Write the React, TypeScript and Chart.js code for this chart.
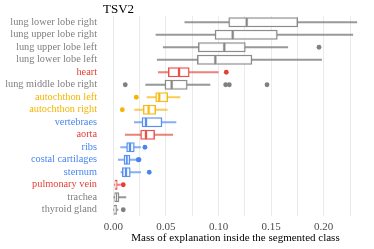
import React, { useEffect, useRef } from "react";
import { Chart, registerables } from "chart.js";

Chart.register(...registerables);

const categories = [
  "lung lower lobe right",
  "lung upper lobe right",
  "lung upper lobe left",
  "lung lower lobe left",
  "heart",
  "lung middle lobe right",
  "autochthon left",
  "autochthon right",
  "vertebraes",
  "aorta",
  "ribs",
  "costal cartilages",
  "sternum",
  "pulmonary vein",
  "trachea",
  "thyroid gland",
];

const groups = ["g", "g", "g", "g", "r", "g", "y", "y", "b", "r", "b", "b", "b", "r", "g", "g"];

const whiskerLow = [0.068, 0.0406, 0.0475, 0.0418, 0.0428, 0.0308, 0.032, 0.0203, 0.02, 0.0114, 0.007, 0.0048, 0.0073, 0.001, 0.0005, 0.0003];
const q1 = [0.1097, 0.0967, 0.0808, 0.0799, 0.0523, 0.0491, 0.0403, 0.0285, 0.0273, 0.026, 0.0127, 0.0102, 0.0086, 0.0016, 0.0013, 0.0007];
const median = [0.1268, 0.1135, 0.1055, 0.097, 0.0625, 0.0555, 0.0437, 0.0336, 0.0311, 0.0311, 0.0159, 0.0127, 0.0121, 0.0029, 0.0026, 0.0016];
const q3 = [0.1753, 0.1559, 0.1255, 0.1318, 0.0722, 0.0703, 0.0517, 0.0403, 0.0463, 0.0393, 0.02, 0.0159, 0.0162, 0.0038, 0.0054, 0.0032];
const whiskerHigh = [0.2314, 0.2276, 0.1658, 0.198, 0.0998, 0.0919, 0.0634, 0.0513, 0.0596, 0.0565, 0.026, 0.0216, 0.026, 0.0068, 0.012, 0.0045];

const outlierCats = [
  "lung upper lobe left",
  "heart",
  "lung middle lobe right",
  "lung middle lobe right",
  "lung middle lobe right",
  "lung middle lobe right",
  "autochthon left",
  "autochthon right",
  "ribs",
  "costal cartilages",
  "costal cartilages",
  "sternum",
  "pulmonary vein",
  "thyroid gland",
];
const outlierValues = [0.1955, 0.1074, 0.0114, 0.1068, 0.1103, 0.1461, 0.0219, 0.0086, 0.0301, 0.0237, 0.0245, 0.0342, 0.0095, 0.0095];

const xTicks = [0, 0.025, 0.05, 0.075, 0.1, 0.125, 0.15, 0.175, 0.2, 0.225];

const palette: Record<string, [number, number, number]> = {
  g: [128, 128, 128],
  r: [228, 64, 56],
  y: [245, 180, 0],
  b: [72, 133, 240],
};
const rgba = (g: string, a: number) => {
  const c = palette[g];
  return `rgba(${c[0]},${c[1]},${c[2]},${a})`;
};

const FONT = "'Liberation Serif', 'DejaVu Serif', serif";

export default function App() {
  const ref = useRef<HTMLCanvasElement | null>(null);
  useEffect(() => {
    if (!ref.current) return;
    const lineCols = groups.map((g) => rgba(g, g === "g" ? 0.8 : 0.65));
    const boxCols = groups.map((g) => rgba(g, 0.9));
    const outlierColIdx = outlierCats.map((c) => groups[categories.indexOf(c)]);
    const titlePlugin = {
      id: "titleText",
      afterDraw(chart: any) {
        const ctx = chart.ctx;
        ctx.save();
        ctx.font = `13px ${FONT}`;
        ctx.fillStyle = "#000";
        ctx.textBaseline = "alphabetic";
        ctx.textAlign = "left";
        ctx.fillText("TSV2", chart.chartArea.left + 1, 13);
        ctx.restore();
      },
    };
    const chart = new Chart(ref.current, {
      type: "bar",
      data: {
        labels: categories,
        datasets: [
          {
            type: "scatter",
            data: outlierValues.map((v, i) => ({ x: v, y: outlierCats[i] })),
            backgroundColor: outlierColIdx.map((g) => rgba(g, 1)),
            borderWidth: 0,
            pointRadius: 2.4,
            order: 1,
          } as any,
          {
            data: q1.map((v, i) => [v, median[i]]),
            backgroundColor: "rgba(255,255,255,0.85)",
            borderColor: boxCols,
            borderWidth: 1.4,
            borderSkipped: false,
            barThickness: 9.5,
            grouped: false,
            order: 2,
          } as any,
          {
            data: median.map((v, i) => [v, q3[i]]),
            backgroundColor: "rgba(255,255,255,0.85)",
            borderColor: boxCols,
            borderWidth: 1.4,
            borderSkipped: false,
            barThickness: 9.5,
            grouped: false,
            order: 2,
          } as any,
          {
            data: whiskerLow.map((v, i) => [v, q1[i]]),
            backgroundColor: lineCols,
            borderWidth: 0,
            barThickness: 1.4,
            grouped: false,
            order: 3,
          } as any,
          {
            data: q3.map((v, i) => [v, whiskerHigh[i]]),
            backgroundColor: lineCols,
            borderWidth: 0,
            barThickness: 1.4,
            grouped: false,
            order: 3,
          } as any,
        ],
      },
      options: {
        indexAxis: "y",
        animation: false,
        responsive: false,
        maintainAspectRatio: false,
        layout: { padding: { top: 16, right: 5, left: 0, bottom: 0 } },
        plugins: { legend: { display: false }, tooltip: { enabled: false }, title: { display: false } },
        scales: {
          x: {
            type: "linear",
            min: -0.0107,
            max: 0.243,
            afterBuildTicks: (scale: any) => {
              scale.ticks = xTicks.map((v) => ({ value: v }));
            },
            afterFit: (scale: any) => {
              scale.height = 33;
            },
            grid: { color: "#ebebeb", lineWidth: 1, drawTicks: false },
            border: { display: false },
            ticks: {
              padding: 5,
              color: "#4d4d4d",
              font: { family: FONT, size: 11 },
              callback: (v: any) => {
                const n = Number(v);
                const k = Math.round(n / 0.025);
                return k % 2 === 0 ? n.toFixed(2) : "";
              },
            },
            title: {
              display: true,
              text: "Mass of explanation inside the segmented class",
              color: "#000",
              font: { family: FONT, size: 11 },
              padding: { top: 0, bottom: 4 },
            },
          },
          y: {
            type: "category",
            afterFit: (scale: any) => {
              scale.width = 102;
            },
            grid: { display: false, drawTicks: false },
            border: { display: false },
            ticks: {
              padding: 5,
              autoSkip: false,
              color: (ctx: any) => rgba(groups[ctx.index] || "g", 1),
              font: { family: FONT, size: 10.3 },
            },
          },
        },
      },
      plugins: [titlePlugin],
    } as any);
    return () => chart.destroy();
  }, []);
  return (
    <div style={{ position: "absolute", left: 0, top: 0, width: 374, height: 249, background: "#fff" }}>
      <canvas ref={ref} width={374} height={249} style={{ width: 374, height: 249 }} />
    </div>
  );
}
